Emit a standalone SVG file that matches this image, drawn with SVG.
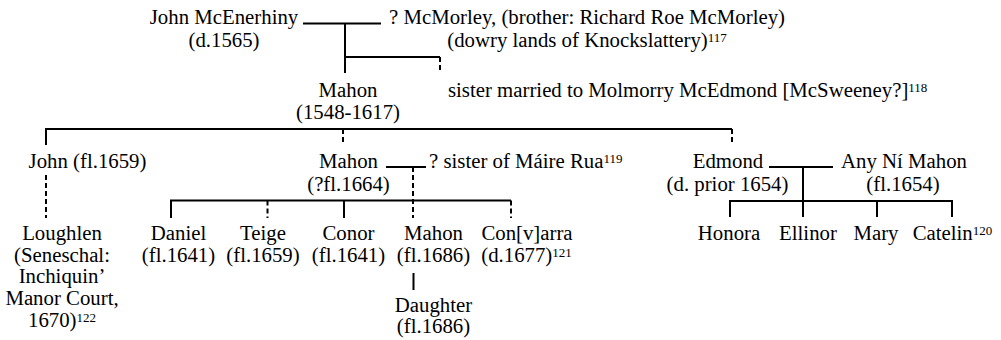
<svg xmlns="http://www.w3.org/2000/svg" width="1001" height="340" viewBox="0 0 1001 340">
<style>
text{font-family:"Liberation Serif","Times New Roman",serif;font-size:20.8px;fill:#000}
.m{text-anchor:middle}
.s{text-anchor:start}
.sup{font-size:13px}
.ln{stroke:#000;stroke-width:2;fill:none}
.d{stroke-dasharray:5,3}
</style>
<rect width="1001" height="340" fill="#fff"/>
<g id="connectors">
<path class="ln" d="M303 23.5H381M345 23.5V73M345 57H440"/>
<path class="ln d" d="M440 57V73"/>
<path class="ln" d="M46 145V129H732"/>
<path class="ln d" d="M343 129V145M732 129V145M46 175V218"/>
<path class="ln" d="M386 167H426"/>
<path class="ln d" d="M413 167V218"/>
<path class="ln" d="M171 218V200.5H511M344 200.5V218"/>
<path class="ln d" d="M267.5 200.5V218M511 200.5V218"/>
<path class="ln" d="M413.5 273V290"/>
<path class="ln" d="M769 167H833M803 167V201M730 217V201H952V217M803 201V217M877 201V217"/>
</g>
<g id="john-mcenerhiny"><text class="m" x="224" y="24">John McEnerhiny</text><text class="m" x="224" y="47">(d.1565)</text></g>
<g id="mcmorley"><text class="m" x="587" y="24">? McMorley, (brother: Richard Roe McMorley)</text><text class="m" x="587" y="47">(dowry lands of Knockslattery)<tspan class="sup" dy="-5">117</tspan></text></g>
<g id="mahon-1548"><text class="m" x="348" y="97">Mahon</text><text class="m" x="348" y="119">(1548-1617)</text></g>
<g id="sister-married"><text class="s" x="448" y="97">sister married to Molmorry McEdmond [McSweeney?]<tspan class="sup" dy="-5">118</tspan></text></g>
<g id="john-1659"><text class="m" x="87.5" y="168">John (fl.1659)</text></g>
<g id="mahon-1664"><text class="m" x="348.5" y="168">Mahon</text><text class="m" x="348.5" y="190.5">(?fl.1664)</text></g>
<g id="sister-maire-rua"><text class="s" x="429" y="168">? sister of Máire Rua<tspan class="sup" dy="-5">119</tspan></text></g>
<g id="edmond"><text class="m" x="728" y="168">Edmond</text><text class="m" x="727.5" y="190.5">(d. prior 1654)</text></g>
<g id="any-ni-mahon"><text class="m" x="904" y="168">Any Ní Mahon</text><text class="m" x="903" y="190.5">(fl.1654)</text></g>
<g id="loughlen"><text class="m" x="62" y="240">Loughlen</text><text class="m" x="62" y="262">(Seneschal:</text><text class="m" x="62" y="283">Inchiquin’</text><text class="m" x="62" y="305">Manor Court,</text><text class="m" x="62" y="326.5">1670)<tspan class="sup" dy="-5">122</tspan></text></g>
<g id="daniel"><text class="m" x="178.5" y="240">Daniel</text><text class="m" x="178.5" y="262">(fl.1641)</text></g>
<g id="teige"><text class="m" x="263" y="240">Teige</text><text class="m" x="263" y="262">(fl.1659)</text></g>
<g id="conor"><text class="m" x="348.5" y="240">Conor</text><text class="m" x="348.5" y="262">(fl.1641)</text></g>
<g id="mahon-1686"><text class="m" x="433.5" y="240">Mahon</text><text class="m" x="433.5" y="262">(fl.1686)</text></g>
<g id="convarra"><text class="m" x="527" y="240">Con[v]arra</text><text class="m" x="526.5" y="262">(d.1677)<tspan class="sup" dy="-5">121</tspan></text></g>
<g id="daughter"><text class="m" x="433.5" y="311.5">Daughter</text><text class="m" x="433.5" y="333">(fl.1686)</text></g>
<g id="honora"><text class="m" x="729" y="240">Honora</text></g>
<g id="ellinor"><text class="m" x="808" y="240">Ellinor</text></g>
<g id="mary"><text class="m" x="876" y="240">Mary</text></g>
<g id="catelin"><text class="m" x="952.5" y="240">Catelin<tspan class="sup" dy="-5">120</tspan></text></g>
</svg>
